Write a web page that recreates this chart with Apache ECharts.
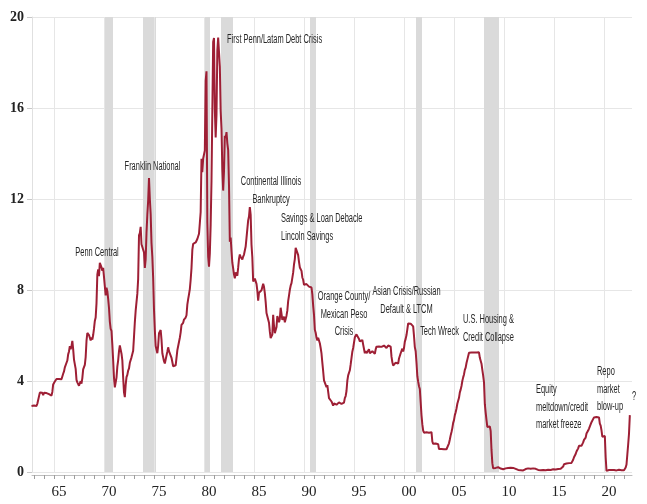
<!DOCTYPE html>
<html><head><meta charset="utf-8">
<script src="https://cdn.jsdelivr.net/npm/echarts@6/dist/echarts.min.js"></script>
<style>html,body{margin:0;padding:0;background:#fff}#c{width:647px;height:504px}</style>
</head><body><div id="c"></div>
<script>
// Monthly effective fed funds rate, starting Oct 1962 (x = year + (month-1)/12)
const startYear = 1962.75;
const fedFunds = [
 2.90, 2.94, 2.93,
 2.92, 3.00, 2.98, 2.90, 3.00, 2.99, 3.02, 3.49, 3.48, 3.50, 3.48, 3.38,
 3.48, 3.48, 3.43, 3.47, 3.50, 3.50, 3.42, 3.50, 3.45, 3.36, 3.52, 3.85,
 3.90, 3.98, 4.04, 4.09, 4.10, 4.04, 4.09, 4.12, 4.01, 4.08, 4.10, 4.32,
 4.42, 4.60, 4.65, 4.67, 4.90, 5.17, 5.30, 5.53, 5.40, 5.53, 5.76, 5.40,
 4.94, 5.00, 4.53, 4.05, 3.94, 3.98, 3.79, 3.90, 3.99, 3.88, 4.13, 4.51,
 4.61, 4.71, 5.05, 5.76, 6.11, 6.07, 6.02, 6.03, 5.78, 5.91, 5.82, 6.02,
 6.30, 6.64, 6.79, 7.41, 8.67, 8.90, 8.61, 9.19, 9.15, 9.00, 8.85, 8.97,
 8.98, 8.98, 7.76, 8.10, 7.95, 7.61, 7.21, 6.61, 6.29, 6.20, 5.60, 4.90,
 4.14, 3.72, 3.71, 4.15, 4.63, 4.91, 5.31, 5.56, 5.55, 5.20, 4.91, 4.14,
 3.50, 3.29, 3.83, 4.17, 4.27, 4.46, 4.55, 4.80, 4.87, 5.04, 5.06, 5.33,
 5.94, 6.58, 7.09, 7.12, 7.84, 8.49, 10.40, 10.50, 10.78, 10.01, 10.03, 9.95,
 9.65, 8.97, 9.35, 10.51, 11.31, 11.93, 12.92, 12.01, 11.34, 10.06, 9.45, 8.53,
 7.13, 6.24, 5.54, 5.49, 5.22, 5.55, 6.10, 6.14, 6.24, 5.82, 5.22, 5.20,
 4.87, 4.77, 4.84, 4.82, 5.29, 5.48, 5.31, 5.29, 5.25, 5.02, 4.95, 4.65,
 4.61, 4.68, 4.69, 4.73, 5.35, 5.39, 5.42, 5.90, 6.14, 6.47, 6.51, 6.56,
 6.70, 6.78, 6.79, 6.89, 7.36, 7.60, 7.81, 8.04, 8.45, 8.96, 9.76, 10.03,
 10.07, 10.06, 10.09, 10.01, 10.24, 10.29, 10.47, 10.94, 11.43, 13.77, 13.18, 13.78,
 13.82, 14.13, 17.19, 17.61, 10.98, 9.47, 9.03, 9.61, 10.87, 12.81, 15.85, 18.90,
 19.08, 15.93, 14.70, 15.72, 18.52, 19.10, 19.04, 17.82, 15.87, 15.08, 13.31, 12.37,
 13.22, 14.78, 14.68, 14.94, 14.45, 14.15, 12.59, 10.12, 10.31, 9.71, 9.20, 8.95,
 8.68, 8.51, 8.77, 8.80, 8.63, 8.98, 9.37, 9.56, 9.45, 9.48, 9.34, 9.47,
 9.56, 9.59, 9.91, 10.29, 10.32, 11.06, 11.23, 11.64, 11.30, 9.99, 9.43, 8.38,
 8.35, 8.50, 8.58, 8.27, 7.97, 7.53, 7.88, 7.90, 7.92, 7.99, 8.05, 8.27,
 8.14, 7.86, 7.48, 6.99, 6.85, 6.92, 6.56, 6.17, 5.89, 5.85, 6.04, 6.91,
 6.43, 6.10, 6.13, 6.37, 6.85, 6.73, 6.58, 6.73, 7.22, 7.29, 6.69, 6.77,
 6.83, 6.58, 6.58, 6.87, 7.09, 7.51, 7.75, 8.01, 8.19, 8.30, 8.35, 8.76,
 9.12, 9.36, 9.85, 9.84, 9.81, 9.53, 9.24, 8.99, 9.02, 8.84, 8.55, 8.45,
 8.23, 8.24, 8.28, 8.26, 8.18, 8.29, 8.15, 8.13, 8.20, 8.11, 7.81, 7.31,
 6.91, 6.25, 6.12, 5.91, 5.78, 5.90, 5.82, 5.66, 5.45, 5.21, 4.81, 4.43,
 4.03, 4.06, 3.98, 3.73, 3.82, 3.76, 3.25, 3.30, 3.22, 3.10, 3.09, 2.92,
 3.02, 3.03, 3.07, 2.96, 3.00, 3.04, 3.06, 3.03, 3.09, 2.99, 3.02, 2.96,
 3.05, 3.25, 3.34, 3.56, 4.01, 4.25, 4.26, 4.47, 4.73, 4.76, 5.29, 5.45,
 5.53, 5.92, 5.98, 6.05, 6.01, 6.00, 5.85, 5.74, 5.80, 5.76, 5.80, 5.60,
 5.56, 5.22, 5.31, 5.22, 5.24, 5.27, 5.40, 5.22, 5.30, 5.24, 5.31, 5.29,
 5.25, 5.19, 5.39, 5.51, 5.50, 5.56, 5.52, 5.54, 5.54, 5.50, 5.52, 5.50,
 5.56, 5.51, 5.49, 5.45, 5.49, 5.56, 5.54, 5.55, 5.51, 5.07, 4.83, 4.68,
 4.63, 4.76, 4.81, 4.74, 4.74, 4.76, 4.99, 5.07, 5.22, 5.20, 5.42, 5.30,
 5.45, 5.73, 5.85, 6.02, 6.27, 6.53, 6.54, 6.50, 6.52, 6.51, 6.51, 6.40,
 5.98, 5.49, 5.31, 4.80, 4.21, 3.97, 3.77, 3.65, 3.07, 2.49, 2.09, 1.82,
 1.73, 1.74, 1.73, 1.75, 1.75, 1.75, 1.73, 1.74, 1.75, 1.75, 1.34, 1.24,
 1.24, 1.26, 1.25, 1.26, 1.26, 1.22, 1.01, 1.03, 1.01, 1.01, 1.00, 0.98,
 1.00, 1.01, 1.00, 1.00, 1.00, 1.03, 1.26, 1.43, 1.61, 1.76, 1.93, 2.16,
 2.28, 2.50, 2.63, 2.79, 3.00, 3.04, 3.26, 3.50, 3.62, 3.78, 4.00, 4.16,
 4.29, 4.49, 4.59, 4.79, 4.94, 4.99, 5.24, 5.25, 5.25, 5.25, 5.25, 5.24,
 5.25, 5.26, 5.26, 5.25, 5.25, 5.25, 5.26, 5.02, 4.94, 4.76, 4.49, 4.24,
 3.94, 2.98, 2.61, 2.28, 1.98, 2.00, 2.01, 2.00, 1.81, 0.97, 0.39, 0.16,
 0.15, 0.22, 0.18, 0.15, 0.18, 0.21, 0.16, 0.16, 0.15, 0.12, 0.12, 0.12,
 0.11, 0.13, 0.16, 0.20, 0.20, 0.18, 0.18, 0.19, 0.19, 0.19, 0.19, 0.18,
 0.17, 0.16, 0.14, 0.10, 0.09, 0.09, 0.07, 0.10, 0.08, 0.07, 0.08, 0.07,
 0.08, 0.10, 0.13, 0.14, 0.16, 0.16, 0.16, 0.13, 0.14, 0.16, 0.16, 0.16,
 0.14, 0.15, 0.14, 0.15, 0.11, 0.09, 0.09, 0.08, 0.08, 0.09, 0.08, 0.09,
 0.07, 0.07, 0.08, 0.09, 0.09, 0.10, 0.09, 0.09, 0.09, 0.09, 0.09, 0.12,
 0.11, 0.11, 0.11, 0.12, 0.12, 0.13, 0.13, 0.14, 0.14, 0.12, 0.12, 0.24,
 0.34, 0.38, 0.36, 0.37, 0.37, 0.38, 0.39, 0.40, 0.40, 0.40, 0.41, 0.54,
 0.65, 0.66, 0.79, 0.90, 0.91, 1.04, 1.15, 1.16, 1.15, 1.15, 1.16, 1.30,
 1.41, 1.42, 1.51, 1.69, 1.70, 1.82, 1.91, 1.91, 1.95, 2.19, 2.20, 2.27,
 2.40, 2.40, 2.41, 2.42, 2.39, 2.38, 2.40, 2.13, 2.04, 1.83, 1.55, 1.55,
 1.55, 1.58, 0.65, 0.05, 0.05, 0.08, 0.09, 0.10, 0.09, 0.09, 0.09, 0.09,
 0.09, 0.08, 0.07, 0.07, 0.06, 0.08, 0.10, 0.09, 0.08, 0.08, 0.08, 0.08,
 0.08, 0.08, 0.20, 0.33, 0.77, 1.21, 1.68, 2.50
];
// Recession shading [start, end] in decimal years
const recessions = [
 [1970.0, 1970.9], [1973.9, 1975.2], [1980.0, 1980.6], [1981.7, 1982.9],
 [1990.6, 1991.2], [2001.2, 2001.8], [2008.0, 2009.5]
];
const yTicks = [0, 4, 8, 12, 16, 20];
const gridYears = [1965, 1970, 1975, 1980, 1985, 1990, 1995, 2000, 2005, 2010, 2015, 2020];
const labelYears = [1965, 1970, 1975, 1980, 1985, 1990, 1995, 2000, 2005, 2010, 2015, 2020];
const tickYears = [];
for (let y = 1963; y <= 2022; y++) tickYears.push(y);
// Annotations: text lines and anchor in data coordinates [year, rate]
const notes = [
 { lines: ['Penn Central'], at: [1969.3, 9.63], align: 'center' },
 { lines: ['Franklin National'], at: [1974.85, 13.41], align: 'center' },
 { lines: ['First Penn/Latam Debt Crisis'], at: [1982.3, 18.99], align: 'left' },
 { lines: ['Continental Illinois', 'Bankruptcy'], at: [1986.7, 12.75], align: 'center' },
 { lines: ['Savings & Loan Debacle', 'Lincoln Savings'], at: [1987.7, 11.12], align: 'left' },
 { lines: ['Orange County/', 'Mexican Peso', 'Crisis'], at: [1994.0, 7.69], align: 'center' },
 { lines: ['Asian Crisis/Russian', 'Default & LTCM'], at: [2000.25, 7.91], align: 'center' },
 { lines: ['Tech Wreck'], at: [2003.55, 6.15], align: 'center' },
 { lines: ['U.S. Housing &', 'Credit Collapse'], at: [2005.9, 6.68], align: 'left' },
 { lines: ['Equity', 'meltdown/credit', 'market freeze'], at: [2013.2, 3.60], align: 'left' },
 { lines: ['Repo', 'market', 'blow-up'], at: [2019.3, 4.40], align: 'left' },
 { lines: ['?'], at: [2023.0, 3.30], align: 'center' }
];

const seriesData = fedFunds.map((v, i) => [startYear + i / 12, v]);

const chart = echarts.init(document.getElementById('c'), null, { renderer: 'canvas' });
chart.setOption({
  animation: false,
  backgroundColor: '#fff',
  grid: { left: 32, right: 15, top: 17, bottom: 32, containLabel: false },
  xAxis: {
    type: 'value', min: 1962.8, max: 2022.8,
    offset: 3,
    axisLine: { show: true, onZero: false, lineStyle: { color: '#bdbdbd', width: 1 } },
    axisTick: { show: true, length: 4, customValues: tickYears, lineStyle: { color: '#9e9e9e' } },
    axisLabel: {
      customValues: labelYears.map(y => y + 0.5),
      formatter: v => String(Math.floor(v)).slice(2),
      fontFamily: '"Liberation Serif", "DejaVu Serif", serif', fontSize: 15, color: '#222', margin: 10
    },
    splitLine: { show: false }
  },
  yAxis: {
    type: 'value', min: 0, max: 20, interval: 4,
    axisLine: { show: true, lineStyle: { color: '#e0e0e0' } },
    axisTick: { show: true, length: 5, lineStyle: { color: '#c8c8c8' } },
    axisLabel: {
      fontFamily: '"Liberation Serif", "DejaVu Serif", serif', fontSize: 14, fontWeight: 'bold', color: '#222', margin: 8
    },
    splitLine: { show: true, lineStyle: { color: '#e6e6e6', width: 1 } }
  },
  series: [
    {
      type: 'line', data: [], silent: true,
      markArea: {
        silent: true, z: 1,
        itemStyle: { color: '#dadada' },
        data: recessions.map(r => [{ xAxis: r[0] }, { xAxis: r[1] }])
      },
      markLine: {
        silent: true, z: 1, symbol: ['none', 'none'], label: { show: false },
        lineStyle: { color: '#e6e6e6', width: 1, type: 'solid' },
        data: gridYears.map(y => ({ xAxis: y }))
      }
    },
    {
      type: 'line', data: seriesData, showSymbol: false, symbol: 'none', silent: true, z: 3,
      lineStyle: { color: '#9e1f35', width: 2 }
    }
  ]
});

const g = [];
notes.forEach(n => {
  const p = chart.convertToPixel({ gridIndex: 0 }, n.at);
  n.lines.forEach((t, i) => {
    g.push({
      type: 'text', x: p[0], y: p[1] + i * 17.5, scaleX: 0.62, silent: true, z: 50,
      style: {
        text: t, fill: '#262626', fontSize: 12, fontFamily: '"Liberation Sans", Arial, sans-serif',
        align: n.align, textAlign: n.align, verticalAlign: 'middle', textVerticalAlign: 'middle'
      }
    });
  });
});
chart.setOption({ graphic: g });
</script>
</body></html>
